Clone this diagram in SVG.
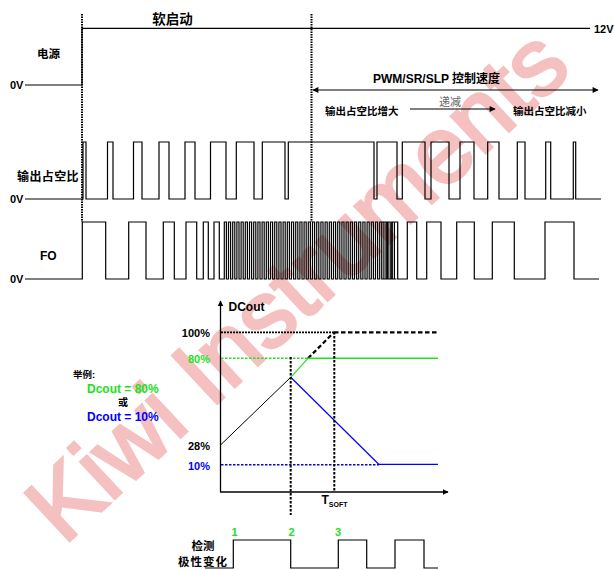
<svg xmlns="http://www.w3.org/2000/svg" width="614" height="570" viewBox="0 0 614 570">
<defs>
<marker id="ah" viewBox="0 0 10 10" refX="9" refY="5" markerWidth="8" markerHeight="6" markerUnits="userSpaceOnUse" orient="auto-start-reverse"><path d="M0,0L10,5L0,10z" fill="#000"/></marker>
<marker id="ax" viewBox="0 0 10 10" refX="9" refY="5" markerWidth="6" markerHeight="6" markerUnits="userSpaceOnUse" orient="auto"><path d="M0,0L10,5L0,10z" fill="#000"/></marker>
</defs>
<style>
text{font-family:"Liberation Sans","Noto Sans CJK SC",sans-serif;font-weight:bold;fill:#000}
.w{fill:none;stroke:#000;stroke-width:1.2}
.dot{fill:none;stroke:#000;stroke-width:2;stroke-dasharray:1.5,1}
.dsh{fill:none;stroke:#000;stroke-width:2;stroke-dasharray:2.5,1.5}
.thk{fill:none;stroke:#000;stroke-width:2.2;stroke-dasharray:4.5,2.5}
.g{fill:#22e022}
.b{fill:#0000ff}
</style>
<text id="watermark" transform="translate(64,546) rotate(-43)" font-size="95" style="font-weight:normal;fill:#f4c0c0;stroke:#f4c0c0;stroke-width:3">Kiwi Instruments</text>
<g id="power">
<text x="172.5" y="24" font-size="13.5" text-anchor="middle">软启动</text>
<text x="37" y="58" font-size="11.5">电源</text>
<text x="10" y="89" font-size="11">0V</text>
<text x="594" y="32.5" font-size="11">12V</text>
<path class="w" d="M25,85H82V28.3H590"/>
</g>
<g id="speed-control">
<text x="373" y="83" font-size="12">PWM/SR/SLP 控制速度</text>
<text x="450" y="105.5" font-size="11" text-anchor="middle" style="font-weight:normal;fill:#666">递减</text>
<text x="325" y="114.5" font-size="10.5">输出占空比增大</text>
<text x="513" y="114.5" font-size="10.5">输出占空比减小</text>
</g>
<g id="duty">
<text x="17" y="181" font-size="12" letter-spacing="0.4">输出占空比</text>
<text x="10" y="203" font-size="11">0V</text>
<path class="w" d="M25,199H83V142H86V199H107.5V142H113V199H133.5V142H142V199H159V142H169V199H185V142H195V199H210.5V142H226V199H236.3V142H254V199H262.3V142H285V199H288.3V142H374V199H377V142H397V199H402.3V142H425V199H431V142H449V199H460V142H474V199H487.7V142H499V199H517.3V142H525V199H545.7V142H550.7V199H573.3V142H575.7V199H601"/>
</g>
<g id="fo">
<text x="40" y="260" font-size="12">FO</text>
<text x="10" y="283" font-size="11">0V</text>
<path class="w" d="M25,279H82.3V222H105.7V279H128.7V222H146V279H163.3V222H174.3V279H186V222H196.7V279H203.3V222H208.3V279H214V222H219.3V279H224.3V222h2.1V279h2.1V222h2.1V279h2.1V222h2.1V279h2.1V222h2.1V279h2.1V222h2.1V279h2.1V222h2.1V279h2.1V222h2.1V279h2.1V222h2.1V279h2.1V222h2.1V279h2.1V222h2.1V279h2.1V222h2.1V279h2.1V222h2.1V279h2.1V222h2.1V279h2.1V222h2.1V279h2.1V222h2.1V279h2.1V222h2.1V279h2.1V222h2.1V279h2.1V222h2.1V279h2.1V222h2.1V279h2.1V222h2.1V279h2.1V222h2.1V279h2.1V222h2.1V279h2.1V222h2.1V279h2.1V222h2.1V279h2.1V222h2.1V279h2.1V222h2.1V279h2.1V222h2.1V279h2.1V222h2.1V279h2.1V222h2.1V279h2.1V222h2.1V279h2.1V222h2.1V279h2.1V222h2.1V279h2.1V222h2.1V279h2.1V222h2.1V279h2.1V222h2.1V279h2.1V222h2.1V279h2.1V222h2.1V279h2.1V222h2.1V279h2.1V222h2.1V279h2.1V222h2.1V279h2.1V222h2.1V279h2.1H381.7V222H387.3V279H391.7V222H397.7V279H407.3V222H416.7V279H426.7V222H441V279H456.7V222H474.3V279H492.3V222H514.3V279H545V222H574V279H599"/>
</g>
<g id="connectors">
<line class="dot" x1="82" y1="14" x2="82" y2="222"/>
<line class="dot" x1="311.5" y1="14" x2="311.5" y2="222"/>
<line x1="313" y1="90" x2="598" y2="90" stroke="#000" stroke-width="1.2" marker-start="url(#ah)" marker-end="url(#ah)"/>
<line x1="410" y1="109" x2="495" y2="109" stroke="#000" stroke-width="1.2" marker-end="url(#ah)"/>
</g>
<g id="graph">
<line x1="220.5" y1="492" x2="220.5" y2="301" stroke="#000" stroke-width="1.3" marker-end="url(#ax)"/>
<line x1="220" y1="492" x2="448" y2="492" stroke="#000" stroke-width="1.3" marker-end="url(#ax)"/>
<text x="228.5" y="311" font-size="12">DCout</text>
<text x="210" y="337" font-size="11" text-anchor="end">100%</text>
<text x="210" y="362.5" font-size="11" text-anchor="end" class="g">80%</text>
<text x="210" y="449.5" font-size="11" text-anchor="end">28%</text>
<text x="210" y="470" font-size="11" text-anchor="end" class="b">10%</text>
<line class="dsh" x1="221" y1="332.3" x2="334" y2="332.3" style="stroke-width:1.8;stroke-dasharray:2,1"/>
<line class="thk" x1="334" y1="332.3" x2="438" y2="332.3"/>
<line class="thk" x1="308" y1="358.3" x2="334" y2="332.3"/>
<line x1="221" y1="358.3" x2="307" y2="358.3" stroke="#22e022" stroke-width="1.6" stroke-dasharray="2.5,1.5"/>
<line x1="307" y1="358.3" x2="438" y2="358.3" stroke="#22e022" stroke-width="1.4"/>
<line x1="290.7" y1="377.3" x2="308" y2="358.3" stroke="#22e022" stroke-width="1.2"/>
<line x1="220.5" y1="445" x2="290.7" y2="377.3" stroke="#000" stroke-width="1"/>
<line x1="290.7" y1="377.3" x2="379" y2="464.5" stroke="#0000ff" stroke-width="1.2"/>
<line x1="221" y1="464.8" x2="379" y2="464.8" stroke="#0000ff" stroke-width="1.6" stroke-dasharray="2.5,1.5"/>
<line x1="379" y1="464.3" x2="438" y2="464.3" stroke="#0000ff" stroke-width="1.3"/>
<line class="dsh" x1="290.7" y1="357" x2="290.7" y2="515"/>
<line class="dsh" x1="334.3" y1="332" x2="334.3" y2="492"/>
<text x="321.5" y="503.5" font-size="12">T<tspan font-size="7" dy="3">SOFT</tspan></text>
</g>
<g id="example">
<text x="73" y="377.5" font-size="9.5">举例:</text>
<text x="87" y="392.5" font-size="12" class="g">Dcout = 80%</text>
<text x="118" y="406" font-size="10">或</text>
<text x="87" y="420.5" font-size="12" class="b">Dcout = 10%</text>
</g>
<g id="polarity">
<text x="191.5" y="550" font-size="11.5">检测</text>
<text x="178" y="566" font-size="11.5" letter-spacing="1">极性变化</text>
<text x="231.5" y="536" font-size="11" class="g">1</text>
<text x="288.5" y="536" font-size="11" class="g">2</text>
<text x="335" y="536" font-size="11" class="g">3</text>
<path class="w" d="M205,568H233.3V540H290.7V568H338.3V540H366.7V568H395V540H424V568H438"/>
</g>
</svg>
